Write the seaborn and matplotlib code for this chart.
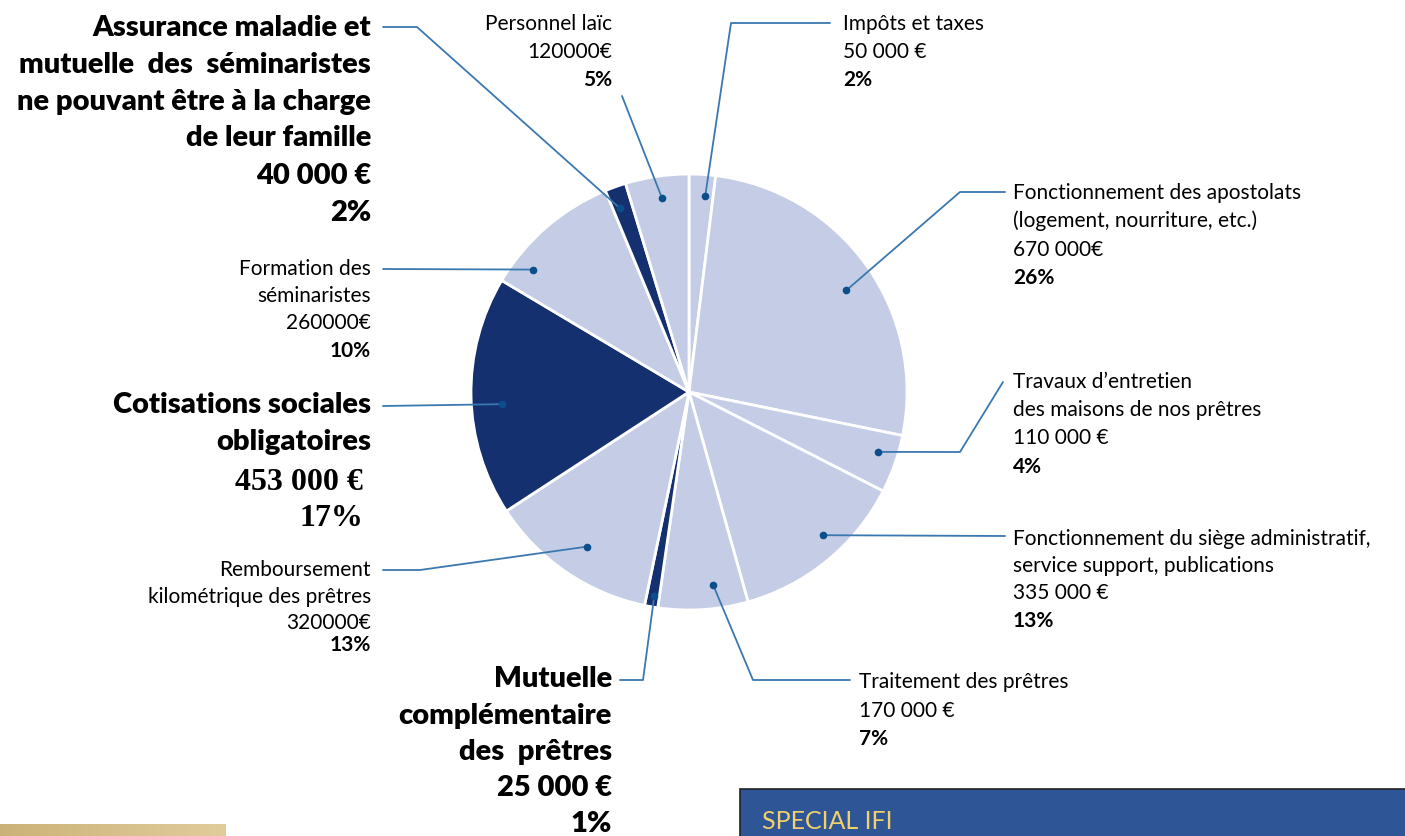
import numpy as np
import matplotlib.pyplot as plt
from matplotlib.patches import Rectangle
import seaborn as sns

# %% data (clockwise from 12 o'clock)
values = [50000, 670000, 110000, 335000, 170000, 25000,
          320000, 453000, 260000, 40000, 120000]
names = ["Impôts et taxes",
         "Fonctionnement des apostolats\n(logement, nourriture, etc.)",
         "Travaux d’entretien\ndes maisons de nos prêtres",
         "Fonctionnement du siège administratif,\nservice support, publications",
         "Traitement des prêtres",
         "Mutuelle\ncomplémentaire\ndes  prêtres",
         "Remboursement\nkilométrique des prêtres",
         "Cotisations sociales\nobligatoires",
         "Formation des\nséminaristes",
         "Assurance maladie et\nmutuelle  des  séminaristes\nne pouvant être à la charge\nde leur famille",
         "Personnel laïc"]
amounts = ["50 000 €", "670 000€", "110 000 €", "335 000 €", "170 000 €",
           "25 000 €", "320000€", "453 000 €", "260000€", "40 000 €", "120000€"]
percents = ["2%", "26%", "4%", "13%", "7%", "1%", "13%", "17%", "10%", "2%", "5%"]
highlight = [False, False, False, False, False, True,
             False, True, False, True, False]

# %% style
sns.set_theme(style="white")
plt.rcParams['font.family'] = ['Lato', 'DejaVu Sans']

light = "#C5CDE6"
dark = "#15306F"
lead_c = "#3A78B0"
dot_c = "#0B4E8A"

W, H = 1405, 837
cx, cy, R = 689, 393, 218

fig = plt.figure(figsize=(W / 100, H / 100), dpi=100)
ax = fig.add_axes([0, 0, 1, 1])

colors = [dark if h else light for h in highlight]
wedges, _ = ax.pie(values, colors=colors, startangle=-90, counterclock=True,
                   center=(cx, cy), radius=R,
                   wedgeprops=dict(edgecolor="white", linewidth=2))
ax.set_xlim(0, W)
ax.set_ylim(H, 0)
ax.set_aspect('auto')
ax.axis('off')

# leader layout: (fraction inside wedge, radius fraction, elbow points)
leaders = [
    (0.67, 0.90, [(731, 24), (830, 24)]),
    (0.53, 0.86, [(960, 193), (1005, 193)]),
    (0.39, 0.91, [(960, 453), (1003, 383)]),
    (0.42, 0.90, [(1005, 537)]),
    (0.36, 0.89, [(753, 681), (850, 681)]),
    (0.40, 0.95, [(643, 681), (620, 681)]),
    (0.48, 0.85, [(420, 571), (383, 571)]),
    (0.46, 0.86, [(383, 407)]),
    (0.20, 0.91, [(383, 270)]),
    (0.35, 0.90, [(417, 28), (383, 28)]),
    (0.53, 0.90, [(622, 97)]),
]
for w, (f, rf, pts) in zip(wedges, leaders):
    th = np.deg2rad(w.theta1 + f * (w.theta2 - w.theta1))
    dx, dy = cx + rf * R * np.cos(th), cy + rf * R * np.sin(th)
    xs = [dx] + [p[0] for p in pts]
    ys = [dy] + [p[1] for p in pts]
    ax.plot(xs, ys, color=lead_c, lw=1.3, zorder=3)
    ax.plot(dx, dy, 'o', color=dot_c, ms=4.5, zorder=4)

# label layout: x anchor, alignment, line y positions, big style
labels_pos = [
    (843, 'left', [24, 52, 80], False),
    (1013, 'left', [193, 221, 250, 278], False),
    (1013, 'left', [382, 410, 438, 467], False),
    (1013, 'left', [539, 566, 593, 621], False),
    (859, 'left', [682, 711, 739], False),
    (612, 'right', [679, 716, 752, 788, 824], True),
    (371, 'right', [570, 597, 623, 645], False),
    (371, 'right', [405, 442, 482, 519], True),
    (371, 'right', [269, 296, 323, 351], False),
    (371, 'right', [28, 65, 102, 138, 176, 213], True),
    (612, 'right', [24, 52, 80], False),
]
big_kw = dict(fontsize=21, fontweight='heavy')
small = 15
for i, (x, ha, ys, big) in enumerate(labels_pos):
    lines = names[i].split("\n")
    n = len(lines)
    for j, y in enumerate(ys):
        if j < n:
            txt = lines[j]
            kw = dict(big_kw) if big else dict(fontsize=small)
        elif j == n:
            txt = amounts[i]
            kw = dict(big_kw) if big else dict(fontsize=small)
        else:
            txt = percents[i]
            kw = dict(big_kw) if big else dict(fontsize=small, fontweight='bold')
        xx = x
        if i == 7 and j >= n:
            kw['family'] = ['Liberation Serif', 'DejaVu Serif']
            kw['fontweight'] = 'bold'
            kw['fontsize'] = 23
            xx = x - 8
        ax.text(xx, y, txt, ha=ha, va='center', color='black', **kw)

# bottom decorations
grad = np.linspace(0, 1, 100).reshape(1, -1)
c0, c1 = np.array([0.80, 0.70, 0.47]), np.array([0.88, 0.80, 0.61])
img = c0 + (c1 - c0) * grad[..., None]
ax.imshow(img, extent=(0, 226, 837, 825), aspect='auto', zorder=1)
ax.add_patch(Rectangle((740, 790), 670, 50, facecolor="#2E5596",
                       edgecolor="#222222", lw=1.2, zorder=2))
ax.text(762, 822, "SPECIAL IFI", color="#F2D06B", fontsize=18,
        ha='left', va='center', zorder=3)
ax.set_xlim(0, W)
ax.set_ylim(H, 0)

plt.savefig('out.png', dpi=100)
plt.close()
